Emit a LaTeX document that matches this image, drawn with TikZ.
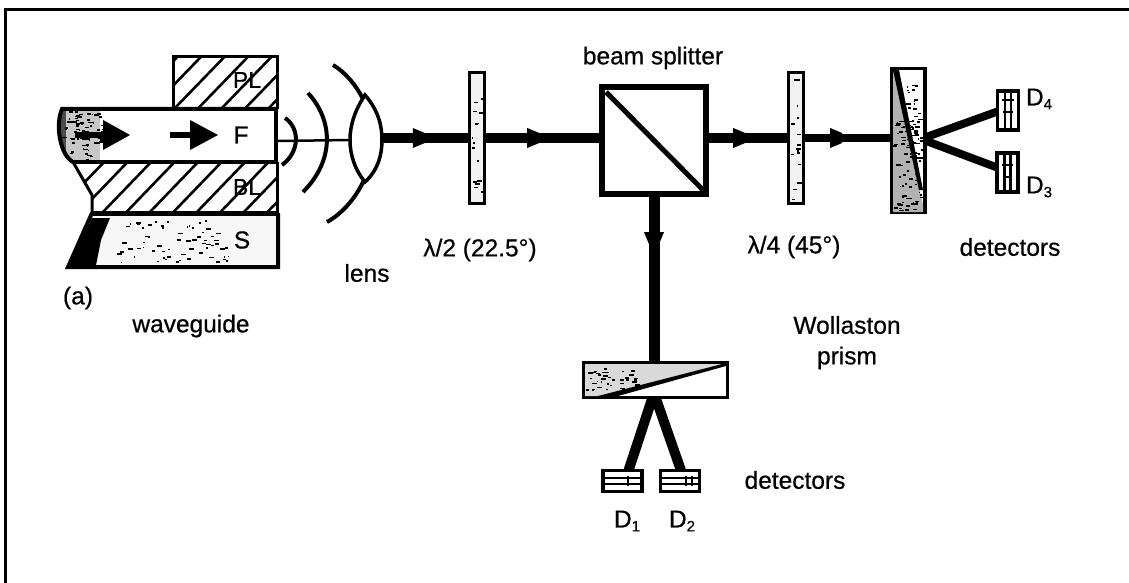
\documentclass[tikz,border=0pt]{standalone}
\usepackage{fontspec}
\setmainfont{Liberation Sans}[FakeBold=0.6]
\usetikzlibrary{decorations.markings,calc}
\newcommand{\specks}[5]{% x0 y0 w h n
  \foreach \i in {1,...,#5}{
    \pgfmathsetmacro{\sx}{#1+rnd*#3}
    \pgfmathsetmacro{\sy}{#2+rnd*#4}
    \pgfmathsetmacro{\sw}{1+rnd*4}
    \fill (\sx,\sy) rectangle ++(\sw,1.6);
  }}
\newcommand{\subtext}[1]{\raisebox{-0.3ex}{\fontsize{15}{16}\selectfont #1}}
\tikzset{
  x=1pt,y=-1pt,
  ink/.style={line width=#1,draw=black,line join=miter},
  label/.style={font=\fontsize{24.5}{27}\selectfont,inner sep=0pt,outer sep=0pt,text=black},
  small/.style={font=\fontsize{23}{25}\selectfont,inner sep=0pt,text=black},
  plate/.style={draw=black,line width=3pt,fill=black!5,inner sep=0pt,outer sep=0pt,minimum width=15pt,minimum height=130pt},
  splitter/.style={draw=black,line width=6pt,fill=white,inner sep=0pt,outer sep=0pt,minimum width=104pt,minimum height=107pt},
  prism/.style={draw=black,line width=3.5pt,fill=white,inner sep=0pt,outer sep=0pt},
  detector/.style={draw=black,line width=3.5pt,fill=white,inner sep=0pt,outer sep=0pt},
  beam/.style={line width=#1,draw=black},
  beam/.default=9pt,
  beamtip/.style={postaction={decorate},decoration={markings,mark=at position #1 with {\fill[black] (-4pt,-10pt)--(8pt,-5pt)--(8pt,5pt)--(-4pt,10pt)--cycle;}}},
  hatchline/.style={line width=2.6pt,draw=black}
}
\begin{document}
\begin{tikzpicture}
\useasboundingbox (0,0) rectangle (1129,583);
\pgfmathsetseed{4217}
% frame
\draw[ink=3pt] (5.5,583) -- (5.5,10) -- (1129,10);

% waveguide layers
\begin{scope}
  \clip (173,109) rectangle (278,57);
  \foreach \x in {127,150.5,...,290}{\draw[hatchline] (\x,109) -- ++(60,-62);}
\end{scope}
\draw[ink=3pt] (173,109) -- (173,57) -- (277,57) -- (277,109);
\begin{scope}
  \clip (73,162) -- (278,162) -- (278,213) -- (92,213) -- (92,195) -- cycle;
  \foreach \x in {55,78.5,...,270}{\draw[hatchline] (\x,213) -- ++(52,-54);}
\end{scope}
\draw[ink=3pt] (73,162) -- (92,195) -- (92,213);
\draw[ink=3pt] (277,162) -- (277,213);
% film
\path[fill=white] (62,109) -- (276,109) -- (276,162) -- (73,162) .. controls (60,155) and (55,125) .. (62,109) -- cycle;
\begin{scope}
  \clip (62,109) -- (110,109) -- (110,162) -- (73,162) .. controls (60,155) and (55,125) .. (62,109) -- cycle;
  \fill[black!22] (58,109) rectangle (100,162);
  \fill[black!70] (58,109) rectangle (66,162);
  \specks{60}{110}{45}{50}{70}
\end{scope}
\draw[ink=4pt] (73,162) .. controls (60,155) and (55,125) .. (62,109) -- (277,109);
\draw[ink=4pt] (73,162) -- (277,162);
\draw[ink=4pt] (276,109) -- (276,162);
% substrate
\path[fill=black!3] (92,213) -- (277,213) -- (277,267) -- (68,267) -- cycle;
\fill[black] (92,218) -- (110,218) -- (101,240) -- (96,265) -- (70,265) -- cycle;
\specks{108}{220}{120}{42}{70}
\draw[ink=4pt] (92,213) -- (68,267) -- (278,267) -- (278,213);
\draw[ink=5pt] (92,213) -- (278,213);

% arrows in film
\fill (75,132) rectangle (104,138);
\fill (103,120) -- (130,135) -- (103,150) -- cycle;
\fill (170,132) rectangle (191,138);
\fill (190,120) -- (218,135) -- (190,150) -- cycle;

% layer labels
\node[small] (pl) at (247,80) {PL};
\node[label] (f) at (241,135) {F};
\node[small] (bl) at (247,187) {BL};
\node[label] (s) at (242,240) {S};

% optics nodes
\coordinate (guide) at (278,141);
\node[inner sep=0pt,outer sep=0pt,minimum width=32pt,minimum height=87pt] (lens) at (366,140) {};
\node[plate] (hwp) at (476.5,138) {};
\node[splitter] (bs) at (654,140.5) {};
\node[plate] (qwp) at (795.5,138) {};
\node[prism,minimum width=33pt,minimum height=144pt] (wr) at (908.5,140.5) {};
\node[prism,minimum width=144pt,minimum height=35pt] (wb) at (655.5,380) {};
\node[detector,minimum width=21pt,minimum height=39pt] (d4) at (1008,110.5) {};
\node[detector,minimum width=21pt,minimum height=39pt] (d3) at (1007.5,172.5) {};
\node[detector,minimum width=39pt,minimum height=21pt] (d1) at (622.5,481) {};
\node[detector,minimum width=39pt,minimum height=21pt] (d2) at (680,481) {};

% beams
\draw[beam=2.5pt] (guide) -- (lens.west);
\draw[beam=10pt,beamtip=0.4] (lens.east |- hwp.west) -- (hwp.west);
\draw[beam=10pt,beamtip=0.4] (hwp.east) -- (bs.west |- hwp.east);
\draw[beam=9pt,beamtip=0.38] (bs.east |- qwp.west) -- (qwp.west);
\draw[beam=8pt,beamtip=0.35] (qwp.east) -- (wr.west |- qwp.east);
\draw[beam=11pt,beamtip=0.25] (bs.south) -- (bs.south |- wb.north);
\draw[beam=8pt] ($(wr.east)+(0,-3)$) -- ($(d4.west)+(0,1)$);
\draw[beam=8pt] ($(wr.east)+(0,0)$) -- ($(d3.west)+(0,-5)$);
\draw[beam=10pt] ($(wb.south)+(-3,0)$) -- ($(d1.north)+(6,0)$);
\draw[beam=10pt] ($(wb.south)+(0,0)$) -- ($(d2.north)+(1,0)$);

% lens outline and wavefronts
\draw[ink=3.5pt,fill=white] (365,95) .. controls (378,110) and (382,125) .. (382,140) .. controls (382,155) and (378,170) .. (365,182) .. controls (355,170) and (350,155) .. (350,140) .. controls (350,125) and (355,110) .. (365,95) -- cycle;
\draw[ink=4pt] (285,118) .. controls (300,128) and (300,152) .. (282,165);
\draw[ink=4pt] (308,93) .. controls (333,120) and (335,160) .. (303,192);
\draw[ink=4pt] (333,65) .. controls (345,72) and (356,85) .. (363,99);
\draw[ink=4pt] (364,180) .. controls (355,200) and (340,215) .. (327,222);

% beam splitter diagonal
\draw[ink=5pt] (606,92) -- (703,190);

% plates: speckle
\specks{471}{76}{10}{124}{16}
\specks{790}{76}{10}{124}{16}

% right Wollaston interior
\begin{scope}
  \clip (wr.north west) rectangle (wr.south east);
  \fill[black!30] (893,70) -- (923,205) -- (923,212) -- (893,212) -- cycle;
  \specks{893}{120}{30}{90}{90}
  \specks{905}{75}{15}{60}{22}
  \fill (893,70) -- (899,70) -- (923,190) -- (919,190) -- cycle;
\end{scope}
% bottom Wollaston interior
\begin{scope}
  \clip (wb.north west) rectangle (wb.south east);
  \fill[black!15] (585,364) -- (726,364) -- (598,396) -- (585,396) -- cycle;
  \specks{586}{366}{50}{24}{40}
  \fill (726,363) -- (726,366) -- (618,396) -- (598,396) -- cycle;
\end{scope}

% detector interiors
\draw[ink=2.5pt] (1005,93) -- (1005,128);
\draw[ink=2.5pt] (1011,93) -- (1011,128);
\draw[ink=2.5pt] (1002,100) -- (1014,100);
\draw[ink=2.5pt] (1003,112) -- (1013,112);
\draw[ink=2.5pt] (1004.5,155) -- (1004.5,190);
\draw[ink=2.5pt] (1010.5,155) -- (1010.5,190);
\draw[ink=2.5pt] (1002,165) -- (1013,165);
\draw[ink=2.5pt] (1003,177) -- (1012,177);
\draw[ink=2.5pt] (605,478) -- (640,478);
\draw[ink=2.5pt] (605,484) -- (640,484);
\draw[ink=2.5pt] (628,476) -- (628,486);
\draw[ink=2.5pt] (662,478) -- (698,478);
\draw[ink=2.5pt] (662,484) -- (698,484);
\draw[ink=2.5pt] (686,476) -- (686,486);
\draw[ink=2.5pt] (692,476) -- (692,486);

% labels
\node[label] (tbs) at (653,58) {beam splitter};
\node[label] (twg) at (191,326) {waveguide};
\node[label] (ta) at (78,298) {(a)};
\node[label] (tl) at (367,273) {lens};
\node[label] (thw) at (480,250) {λ/2 (22.5°)};
\node[label] (tqw) at (794,247) {λ/4 (45°)};
\node[label] (tdr) at (1010,247) {detectors};
\node[label] (tw) at (847,325) {Wollaston};
\node[label] (tp) at (847,358) {prism};
\node[label] (tdb) at (795,480) {detectors};
\node[label] (td4) at (1039,99) {D\subtext{4}};
\node[label] (td3) at (1039,187) {D\subtext{3}};
\node[label] (td1) at (627,521) {D\subtext{1}};
\node[label] (td2) at (682,521) {D\subtext{2}};
\end{tikzpicture}
\end{document}
